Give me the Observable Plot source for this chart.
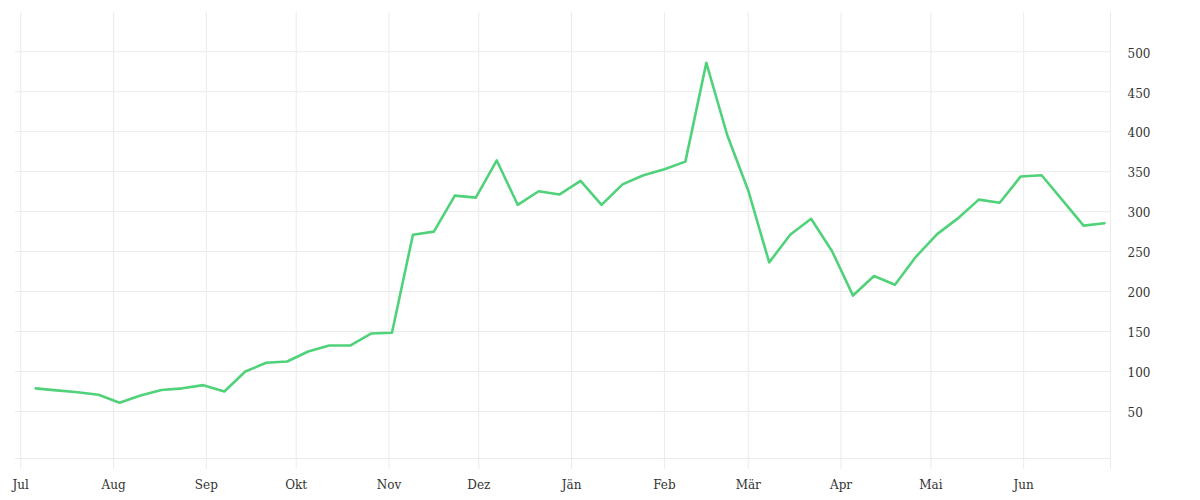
<!DOCTYPE html>
<html>
<head>
<meta charset="utf-8">
<script src="https://cdn.jsdelivr.net/npm/d3@7"></script>
<script src="https://cdn.jsdelivr.net/npm/@observablehq/plot@0.6"></script>
<style>
  html, body { margin: 0; padding: 0; background: #fff; }
  #chart { width: 1200px; height: 500px; }
</style>
</head>
<body>
<div id="chart"></div>
<script>
const dates = [
  "2018-07-06","2018-07-13","2018-07-20","2018-07-27",
  "2018-08-03","2018-08-10","2018-08-17","2018-08-24","2018-08-31",
  "2018-09-07","2018-09-14","2018-09-21","2018-09-28",
  "2018-10-05","2018-10-12","2018-10-19","2018-10-26",
  "2018-11-02","2018-11-09","2018-11-16","2018-11-23","2018-11-30",
  "2018-12-07","2018-12-14","2018-12-21","2018-12-28",
  "2019-01-04","2019-01-11","2019-01-18","2019-01-25",
  "2019-02-01","2019-02-08","2019-02-15","2019-02-22",
  "2019-03-01","2019-03-08","2019-03-15","2019-03-22","2019-03-29",
  "2019-04-05","2019-04-12","2019-04-19","2019-04-26",
  "2019-05-03","2019-05-10","2019-05-17","2019-05-24","2019-05-31",
  "2019-06-07","2019-06-14","2019-06-21","2019-06-28"
];
const values = [
  79, 76.5, 74, 71,
  61, 70, 77, 79, 83,
  75, 100, 111, 112.5,
  125, 132.5, 132.5, 147.5,
  148.5, 271, 275, 320, 317.5,
  364, 308.5, 325.5, 321.5,
  338.5, 308.5, 334, 345.5,
  353, 362.5, 486, 395.5,
  326.5, 236.5, 271, 291, 250.5,
  195, 219.5, 208.5, 243.5,
  271.5, 291.5, 315, 311,
  344, 345.5, 314, 282.5, 285.5
];
const monthTicks = [
  "2018-07-01","2018-08-01","2018-09-01","2018-10-01","2018-11-01","2018-12-01",
  "2019-01-01","2019-02-01","2019-03-01","2019-04-01","2019-05-01","2019-06-01"
];
const monthLabels = ["Jul","Aug","Sep","Okt","Nov","Dez","Jän","Feb","Mär","Apr","Mai","Jun"];
const yTicks = [50, 100, 150, 200, 250, 300, 350, 400, 450, 500];
const xDomain = ["2018-06-29T06:00:00Z", "2019-06-30T00:00:00Z"];
const yDomain = [-8.75, 549];

const data = dates.map((d, i) => ({date: new Date(d + "T00:00:00Z"), value: values[i]}));
const months = monthTicks.map(d => new Date(d + "T00:00:00Z"));
const gridXs = months.concat([new Date(xDomain[1])]);

const chart = Plot.plot({
  width: 1200,
  height: 500,
  marginLeft: 15,
  marginRight: 90,
  marginTop: 12,
  marginBottom: 42,
  style: {fontFamily: "'DejaVu Serif', serif", fontSize: "12px", color: "#333", background: "#fff"},
  x: {type: "utc", domain: xDomain.map(d => new Date(d))},
  y: {domain: yDomain},
  marks: [
    Plot.ruleY(yTicks, {stroke: "#ebebeb", strokeWidth: 1, strokeOpacity: 1}),
    Plot.ruleY([yDomain[0]], {stroke: "#ebebeb", strokeWidth: 1, strokeOpacity: 1}),
    Plot.ruleX(gridXs, {y1: -22.5, y2: yDomain[1], stroke: "#ebebeb", strokeWidth: 1, strokeOpacity: 1}),
    Plot.axisX(months, {
      anchor: "bottom", tickSize: 0, tickPadding: 22,
      tickFormat: (d) => monthLabels[months.findIndex(m => +m === +d)],
      label: null, fill: "#333"
    }),
    Plot.axisY(yTicks, {
      anchor: "right", tickSize: 0, tickPadding: 17, label: null, fill: "#333",
      textAnchor: "start", dy: 2
    }),
    Plot.line(data, {x: "date", y: "value", stroke: "#50d27a", strokeWidth: 2.6, curve: "linear"})
  ]
});
document.getElementById("chart").appendChild(chart);
</script>
</body>
</html>
